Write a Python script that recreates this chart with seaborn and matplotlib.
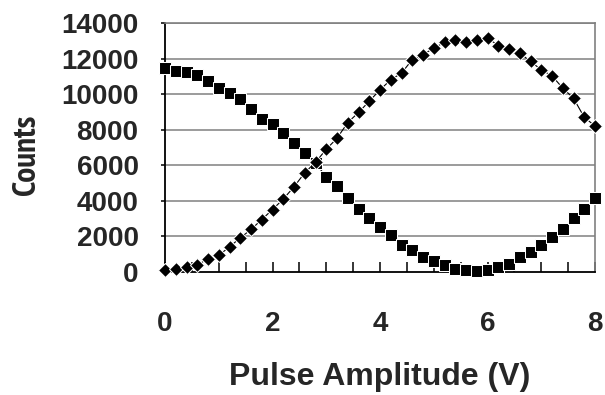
import numpy as np
import pandas as pd
import matplotlib
matplotlib.use("Agg")
import matplotlib.pyplot as plt
from matplotlib.ticker import MultipleLocator
import seaborn as sns

# Data
voltage = [0.0, 0.2, 0.4, 0.6, 0.8, 1.0, 1.2, 1.4, 1.6, 1.8, 2.0,
           2.2, 2.4, 2.6, 2.8, 3.0, 3.2, 3.4, 3.6, 3.8, 4.0,
           4.2, 4.4, 4.6, 4.8, 5.0, 5.2, 5.4, 5.6, 5.8, 6.0,
           6.2, 6.4, 6.6, 6.8, 7.0, 7.2, 7.4, 7.6, 7.8, 8.0]
counts_square = [11470, 11320, 11220, 11090, 10750, 10340, 10090, 9720, 9150, 8590, 8330,
                 7800, 7240, 6710, 6110, 5360, 4830, 4140, 3570, 3010, 2540,
                 2070, 1500, 1220, 850, 600, 380, 190, 90, 60, 130,
                 280, 470, 850, 1130, 1500, 1940, 2440, 3010, 3570, 4140]
counts_diamond = [130, 150, 280, 380, 750, 940, 1410, 1920, 2390, 2950, 3510,
                  4100, 4790, 5580, 6170, 6900, 7520, 8400, 8970, 9600, 10240,
                  10810, 11180, 11940, 12220, 12590, 12910, 13060, 12910, 13030, 13160,
                  12730, 12540, 12310, 11840, 11370, 11030, 10340, 9770, 8700, 8210]
x_ticks = [0, 2, 4, 6, 8]
y_ticks = [0, 2000, 4000, 6000, 8000, 10000, 12000, 14000]

sns.set_style("white")
plt.rcParams['font.family'] = ['Liberation Sans', 'DejaVu Sans']

df = pd.DataFrame({"V": voltage, "sq": counts_square, "di": counts_diamond})

fig = plt.figure(figsize=(6.05, 3.95), dpi=100)
ax = fig.add_axes([165/605, (395-272)/395, 430/605, 249/395])

sns.lineplot(data=df, x="V", y="sq", ax=ax, color="black", lw=0.8,
             marker="s", markersize=8.5, clip_on=False, zorder=3)
sns.lineplot(data=df, x="V", y="di", ax=ax, color="black", lw=0.8,
             marker="D", markersize=7, clip_on=False, zorder=3)

ax.set_xlim(0, 8)
ax.set_ylim(0, 14000)
# horizontal gridlines
ax.hlines(y_ticks[1:], 0, 8, colors="#808080", linewidth=1.1, zorder=1)

ax.set_xticks(x_ticks)
ax.set_xticklabels([str(v) for v in x_ticks], fontweight="bold")
ax.xaxis.set_minor_locator(MultipleLocator(0.5))
ax.set_yticks(y_ticks)
ax.set_yticklabels([str(v) for v in y_ticks], fontweight="bold")

ax.tick_params(axis="x", which="both", direction="in", length=7, width=1.1,
               color="black", pad=28, labelsize=20, bottom=True)
ax.tick_params(axis="y", which="major", direction="out", length=3, width=1.1,
               color="black", pad=16, labelsize=20, left=True)

for s in ["left", "bottom"]:
    ax.spines[s].set_color("black")
    ax.spines[s].set_linewidth(1.3)
for s in ["top", "right"]:
    ax.spines[s].set_color("#808080")
    ax.spines[s].set_linewidth(1.2)

ax.set_xlabel("Pulse Amplitude (V)", fontsize=23, fontweight="bold", labelpad=18)
ax.set_ylabel("Counts", fontsize=24, fontweight="bold",
              family=['Liberation Sans Narrow', 'PT Sans Narrow', 'Liberation Sans'])
ax.yaxis.set_label_coords((42-165)/430, (272-155)/249)

fig.savefig("out.png", dpi=100)
